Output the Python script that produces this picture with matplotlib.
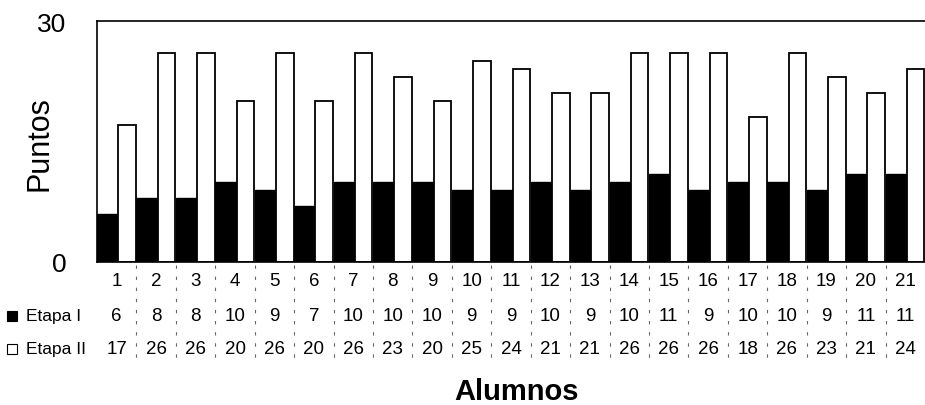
import matplotlib
matplotlib.use("Agg")
import matplotlib.pyplot as plt
import matplotlib.transforms as mtransforms
from matplotlib.patches import Rectangle
import numpy as np

plt.rcParams['font.family'] = ['Liberation Sans', 'DejaVu Sans']

categories = [str(i) for i in range(1, 22)]
etapa1 = [6, 8, 8, 10, 9, 7, 10, 10, 10, 9, 9, 10, 9, 10, 11, 9, 10, 10, 9, 11, 11]
etapa2 = [17, 26, 26, 20, 26, 20, 26, 23, 20, 25, 24, 21, 21, 26, 26, 26, 18, 26, 23, 21, 24]
series_names = ["Etapa I", "Etapa II"]
y_ticks = [0, 30]

W, H = 925, 406
fig = plt.figure(figsize=(W / 100, H / 100), dpi=100)
ax_left, ax_right, ax_top, ax_bot = 97, 925, 22, 263
ax = fig.add_axes([ax_left / W, 1 - ax_bot / H, (ax_right - ax_left) / W, (ax_bot - ax_top) / H])

x = np.arange(len(categories))
ax.bar(x - 0.5, etapa1, width=0.54, align='edge', color='black', edgecolor='black', linewidth=1.0)
ax.bar(x + 0.04, etapa2, width=0.445, align='edge', color='white', edgecolor='black', linewidth=1.3)

ax.set_xlim(-0.5, len(categories) - 0.5)
ax.set_ylim(0, 30)
ax.set_yticks(y_ticks)
ax.set_yticklabels([str(v) for v in y_ticks], fontsize=19)
ax.tick_params(axis='y', length=0, pad=22)
ax.set_xticks([])
ax.spines['right'].set_visible(False)
for s in ['left', 'top', 'bottom']:
    ax.spines[s].set_linewidth(1.2)

fig.text(40 / W, 1 - 144 / H, "Puntos", rotation=90, fontsize=22, ha='center', va='center')

# table
trans = mtransforms.blended_transform_factory(ax.transData, fig.transFigure)
row_y = [282, 317, 350]
fs = 13.5
for i, c in enumerate(categories):
    ax.text(x[i], 1 - row_y[0] / H, c, transform=trans, ha='center', va='center', fontsize=fs, clip_on=False)
    ax.text(x[i], 1 - row_y[1] / H, str(etapa1[i]), transform=trans, ha='center', va='center', fontsize=fs, clip_on=False)
    ax.text(x[i], 1 - row_y[2] / H, str(etapa2[i]), transform=trans, ha='center', va='center', fontsize=fs, clip_on=False)

# faint separators in the table
for i in range(1, len(categories)):
    ax.plot([i - 0.5, i - 0.5], [1 - 266 / H, 1 - 362 / H], transform=trans, color='#666666',
            linewidth=0.8, linestyle=(0, (3, 7)), clip_on=False)

# legend keys
fig.patches.append(Rectangle((7 / W, 1 - 322 / H), 10 / W, 10 / H, transform=fig.transFigure,
                             facecolor='black', edgecolor='black', linewidth=0.8))
fig.patches.append(Rectangle((7 / W, 1 - 355 / H), 10 / W, 10 / H, transform=fig.transFigure,
                             facecolor='white', edgecolor='black', linewidth=0.8))
fig.text(26 / W, 1 - row_y[1] / H, series_names[0], ha='left', va='center', fontsize=12.5)
fig.text(26 / W, 1 - row_y[2] / H, series_names[1], ha='left', va='center', fontsize=12.5)

fig.text(517 / W, 1 - 392 / H, "Alumnos", ha='center', va='center', fontsize=21, fontweight='bold')

fig.savefig("out.png", dpi=100)
